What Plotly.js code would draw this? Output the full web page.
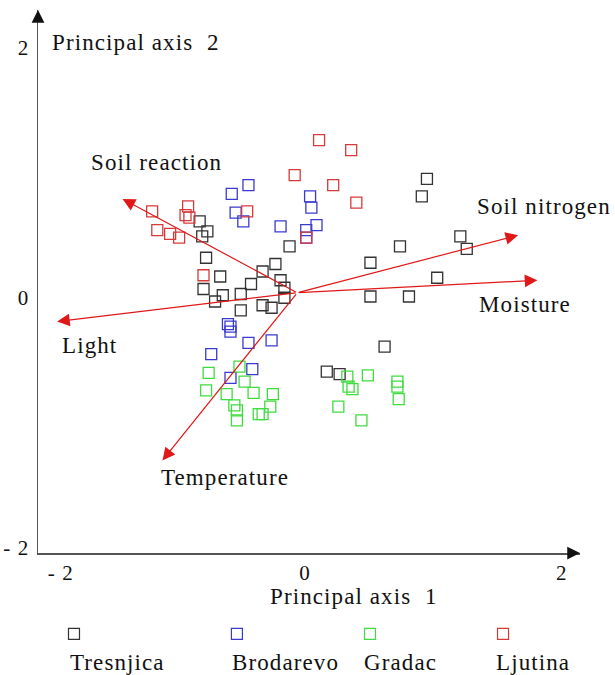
<!DOCTYPE html>
<html>
<head>
<meta charset="utf-8">
<script src="https://cdn.plot.ly/plotly-3.0.1.min.js"></script>
<style>
  html, body { margin: 0; padding: 0; background: #ffffff; }
  text { letter-spacing: 1.1px; }
</style>
</head>
<body>
<div id="chart" style="width:615px;height:675px;"></div>
<script>
// ---------------- data ----------------
const seriesNames = ['Tresnjica', 'Brodarevo', 'Gradac', 'Ljutina'];

const tresnjicaX = [-0.82, -0.76, -0.80, -0.77, -0.66, -0.79, -0.70, -0.64, -0.50, -0.42, -0.33, -0.23, -0.12, -0.19, -0.16, -0.16, -0.50, -0.33, -0.26, 0.95, 0.91, 1.21, 1.26, 0.74, 0.51, 1.03, 0.51, 0.81, 0.62, 0.17, 0.27];
const tresnjicaY = [0.61, 0.53, 0.49, 0.32, 0.17, 0.07, -0.03, 0.02, 0.03, 0.11, 0.21, 0.27, 0.41, 0.14, 0.08, 0.00, -0.10, -0.06, -0.08, 0.95, 0.81, 0.49, 0.39, 0.41, 0.28, 0.16, 0.01, 0.01, -0.39, -0.59, -0.61];

const brodarevoX = [-0.57, -0.44, -0.54, -0.48, -0.19, 0.04, 0.05, 0.09, 0.01, 0.01, -0.60, -0.58, -0.58, -0.44, -0.26, -0.73, -0.41, -0.58];
const brodarevoY = [0.83, 0.90, 0.68, 0.61, 0.57, 0.81, 0.72, 0.58, 0.54, 0.48, -0.21, -0.23, -0.27, -0.36, -0.34, -0.45, -0.57, -0.64];

const gradacX = [-0.75, -0.51, -0.47, -0.77, -0.61, -0.40, -0.25, -0.55, -0.27, -0.53, -0.53, -0.36, -0.33, 0.33, 0.49, 0.34, 0.37, 0.72, 0.72, 0.73, 0.26, 0.44];
const gradacY = [-0.60, -0.55, -0.67, -0.74, -0.77, -0.76, -0.77, -0.86, -0.87, -0.90, -0.98, -0.93, -0.93, -0.63, -0.62, -0.71, -0.73, -0.67, -0.71, -0.81, -0.87, -0.98];

const ljutinaX = [0.11, 0.36, -0.08, 0.22, 0.40, 0.01, -0.91, -0.93, -0.90, -1.19, -0.45, -1.15, -1.05, -0.98, -0.79];
const ljutinaY = [1.26, 1.18, 0.98, 0.90, 0.76, 0.48, 0.73, 0.66, 0.64, 0.69, 0.69, 0.54, 0.51, 0.48, 0.18];

// environmental vectors (biplot arrows)
const vectorNames = ['Soil reaction', 'Soil nitrogen', 'Moisture', 'Light', 'Temperature'];
const vectorX = [-1.42, 1.66, 1.81, -1.93, -1.11];
const vectorY = [0.79, 0.50, 0.14, -0.19, -1.30];
const vectorOriginX = -0.06;
const vectorOriginY = 0.04;

const xTickVals = [-2, 0, 2];
const xTickText = ['\u00a0\u00a0\u00a0\u00a0- 2', '0', '2'];
const yTickVals = [-2, 0, 2];
const yTickText = ['- 2', '0', '2'];

const xAxisTitle = 'Principal axis\u00a0\u00a01';
const yAxisTitle = 'Principal axis\u00a0\u00a02';

// ---------------- styling / layout ----------------
const FONT = '"Liberation Serif", "Times New Roman", Times, serif';
const FS = 23;
const seriesColors = ['#333333', '#3a3ad2', '#3fdc3f', '#d83a3a'];
const seriesX = [tresnjicaX, brodarevoX, gradacX, ljutinaX];
const seriesY = [tresnjicaY, brodarevoY, gradacY, ljutinaY];

const traces = seriesNames.map((name, i) => ({
  type: 'scatter',
  mode: 'markers',
  name: name,
  x: seriesX[i],
  y: seriesY[i],
  cliponaxis: false,
  marker: { symbol: 'square-open', size: 11, color: seriesColors[i], line: { width: 1.3, color: seriesColors[i] } },
  hoverinfo: 'skip'
}));

// label placements for vectors (data coordinates)
const vectorLabelPos = {
  'Soil reaction': [-1.16, 1.08],
  'Soil nitrogen': [1.86, 0.73],
  'Moisture': [1.71, -0.05],
  'Light': [-1.68, -0.38],
  'Temperature': [-0.62, -1.44]
};

const annotations = [];
vectorNames.forEach((n, i) => {
  annotations.push({
    xref: 'x', yref: 'y', axref: 'x', ayref: 'y',
    x: vectorX[i], y: vectorY[i], ax: vectorOriginX, ay: vectorOriginY,
    text: '', showarrow: true, arrowhead: 2, arrowsize: 2.1, arrowwidth: 1.2,
    arrowcolor: '#e01818', standoff: 0
  });
  annotations.push({
    xref: 'x', yref: 'y',
    x: vectorLabelPos[n][0], y: vectorLabelPos[n][1],
    text: n, showarrow: false, xanchor: 'center', yanchor: 'middle',
    font: { family: FONT, size: FS, color: '#111111' }
  });
});

// axis arrowheads
annotations.push({ xref: 'paper', yref: 'paper', x: 0, y: 1, ax: 0, ay: 13, axref: 'pixel', ayref: 'pixel',
  text: '', showarrow: true, arrowhead: 2, arrowsize: 1.7, arrowwidth: 1.5, arrowcolor: '#111111', standoff: 0 });
annotations.push({ xref: 'paper', yref: 'paper', x: 1, y: 0, ax: -13, ay: 0, axref: 'pixel', ayref: 'pixel',
  text: '', showarrow: true, arrowhead: 2, arrowsize: 1.7, arrowwidth: 1.5, arrowcolor: '#111111', standoff: 0 });

// axis titles
annotations.push({ xref: 'paper', yref: 'paper', x: 0.022, y: 0.941, xanchor: 'left', yanchor: 'middle',
  text: yAxisTitle, showarrow: false, font: { family: FONT, size: FS, color: '#111111' } });
annotations.push({ xref: 'paper', yref: 'paper', x: 0.424, y: -0.081, xanchor: 'left', yanchor: 'middle',
  text: xAxisTitle, showarrow: false, font: { family: FONT, size: FS, color: '#111111' } });

// custom legend (marker above the name)
const legendMarkerX = [0.0664, 0.367, 0.6125, 0.858];
const legendTextX = [0.0554, 0.354, 0.598, 0.841];
const shapes = [];
seriesNames.forEach((n, i) => {
  shapes.push({
    type: 'rect', xref: 'paper', yref: 'paper', xsizemode: 'pixel', ysizemode: 'pixel',
    xanchor: legendMarkerX[i], yanchor: -0.149, x0: -5.5, x1: 5.5, y0: -5.5, y1: 5.5,
    line: { color: seriesColors[i], width: 1.2 }, fillcolor: 'rgba(0,0,0,0)'
  });
  annotations.push({
    xref: 'paper', yref: 'paper', x: legendTextX[i], y: -0.201, xanchor: 'left', yanchor: 'middle',
    text: n, showarrow: false, font: { family: FONT, size: FS, color: '#111111' }
  });
});

const axisCommon = {
  showgrid: false, zeroline: false, showline: true, linecolor: '#555555', linewidth: 1.5,
  ticks: '', fixedrange: true,
  tickfont: { family: FONT, size: 21, color: '#111111' }
};

const layout = {
  width: 615, height: 675,
  margin: { l: 38, r: 35, t: 10, b: 122, pad: 0 },
  paper_bgcolor: '#ffffff', plot_bgcolor: '#ffffff',
  showlegend: false,
  font: { family: FONT, size: FS, color: '#111111' },
  xaxis: Object.assign({}, axisCommon, {
    range: [-2.079, 2.142], tickmode: 'array', tickvals: xTickVals, ticktext: xTickText,
    ticklabelstandoff: 0
  }),
  yaxis: Object.assign({}, axisCommon, {
    range: [-2.040, 2.300], tickmode: 'array', tickvals: yTickVals, ticktext: yTickText,
    ticklabelstandoff: 3
  }),
  annotations: annotations,
  shapes: shapes
};

Plotly.newPlot('chart', traces, layout, { displayModeBar: false, staticPlot: true });
</script>
</body>
</html>
